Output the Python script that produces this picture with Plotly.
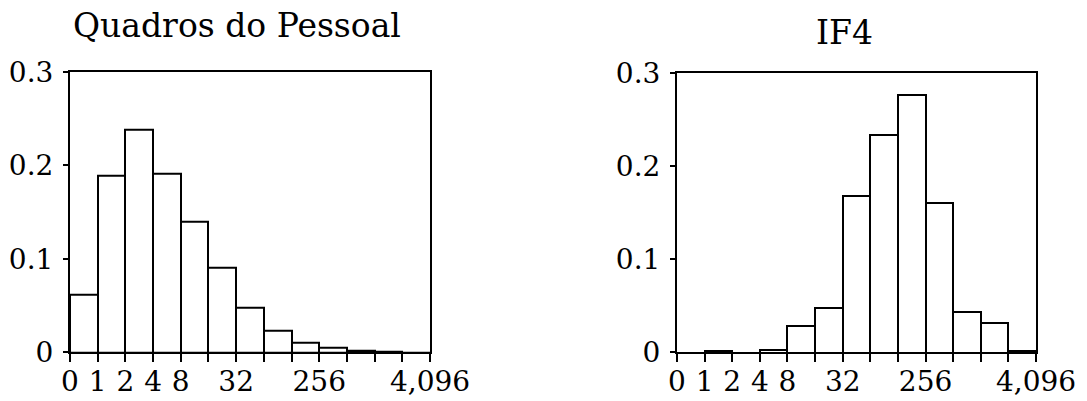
import plotly.graph_objects as go

# Bin edges (log2 bins) and tick labels
bin_edges = [0, 1, 2, 4, 8, 16, 32, 64, 128, 256, 512, 1024, 2048, 4096]
labeled_edges = {0: "0", 1: "1", 2: "2", 4: "4", 8: "8", 32: "32", 256: "256", 4096: "4,096"}

# Series values (share of observations per bin)
quadros = [0.062, 0.189, 0.238, 0.191, 0.140, 0.090, 0.048, 0.0235, 0.0107, 0.0046, 0.0014, 0.0004, 0.0001]
if4 = [0.0, 0.002, 0.0, 0.003, 0.0286, 0.048, 0.168, 0.233, 0.276, 0.161, 0.044, 0.032, 0.002]

titles = ["Quadros do Pessoal", "IF4"]
y_ticks = [0, 0.1, 0.2, 0.3]
y_labels = ["0", "0.1", "0.2", "0.3"]

n_bins = len(bin_edges) - 1
centers = [i + 0.5 for i in range(n_bins)]
tick_pos = list(range(len(bin_edges)))
tick_txt = [labeled_edges.get(e, "") for e in bin_edges]

FONT = "DejaVu Serif"

fig = go.Figure()
for k, (vals, xa, ya) in enumerate([(quadros, "x", "y"), (if4, "x2", "y2")]):
    fig.add_trace(go.Bar(
        x=centers, y=vals, width=1.0, xaxis=xa, yaxis=ya,
        marker=dict(color="white", line=dict(color="black", width=2)),
        showlegend=False, hoverinfo="skip",
    ))

axis_common = dict(showline=True, linecolor="black", linewidth=2, mirror=True,
                   showgrid=False, zeroline=False, ticks="outside", tickcolor="black",
                   tickwidth=2, automargin=False,
                   tickfont=dict(family=FONT, size=28, color="black"))

xa_common = dict(axis_common, range=[0, n_bins], tickmode="array", tickvals=tick_pos,
                 ticktext=tick_txt, ticklen=8, ticklabelstandoff=-5)
ya_common = dict(axis_common, range=[0, 0.3], tickmode="array", tickvals=y_ticks,
                 ticktext=y_labels, ticklen=5, ticklabelstandoff=4)

fig.update_layout(
    width=1087, height=401,
    margin=dict(l=0, r=0, t=0, b=0),
    paper_bgcolor="white", plot_bgcolor="white",
    bargap=0,
    xaxis=dict(xa_common, domain=[70 / 1087, 430 / 1087], anchor="y"),
    yaxis=dict(ya_common, domain=[0.121, 0.821], anchor="x"),
    xaxis2=dict(xa_common, domain=[677 / 1087, 1036 / 1087], anchor="y2"),
    yaxis2=dict(ya_common, domain=[0.121, 0.818], anchor="x2"),
    annotations=[
        dict(text=titles[0], x=237 / 1087, y=1 - 25 / 401, xref="paper", yref="paper",
             xanchor="center", yanchor="middle", showarrow=False,
             font=dict(family=FONT, size=33, color="black")),
        dict(text=titles[1], x=844 / 1087, y=1 - 33 / 401, xref="paper", yref="paper",
             xanchor="center", yanchor="middle", showarrow=False,
             font=dict(family=FONT, size=33, color="black")),
    ],
)

fig.write_html("out.html")
